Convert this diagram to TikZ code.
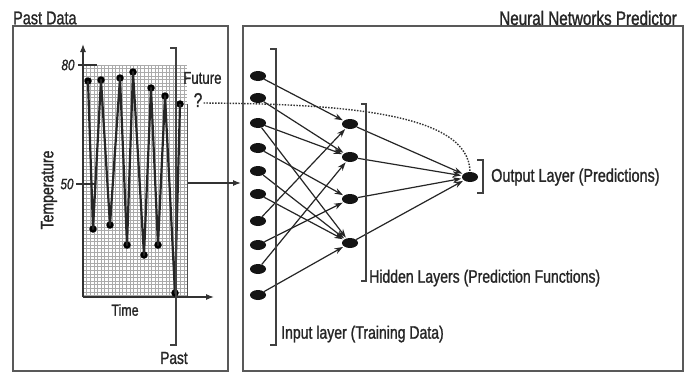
\documentclass[tikz,border=0pt]{standalone}
\usepackage{fontspec}
\setmainfont{Liberation Sans}[FakeStretch=0.78,FakeBold=1.2]
\usetikzlibrary{shapes.geometric,arrows.meta}
\begin{document}
\begin{tikzpicture}[x=1pt,y=-1pt,
  panel/.style={draw=black!65, line width=1.4pt},
  lbl/.style={inner sep=0, text=black!85},
  neuron/.style={ellipse, fill=black!92, minimum width=16pt, minimum height=10pt, inner sep=0},
  datapt/.style={circle, fill=black, minimum size=7.5pt, inner sep=0},
  link/.style={draw=black!85, line width=1.2pt, -{Stealth[length=8.5pt,width=6pt]}, shorten >=1pt},
  brk/.style={draw=black!75, line width=1.4pt},
  gridline/.style={draw=black!33, line width=0.4pt},
  zig/.style={draw=black!85, line width=2.2pt, line join=round},
  axis/.style={draw=black!80, line width=1.2pt},
  forecast/.style={draw=black!80, line width=1.4pt, dash pattern=on 1.5pt off 1.4pt},
]
% canvas
\fill[white] (0,0) rectangle (690,380);
\useasboundingbox (0,0) rectangle (690,380);

% panels and titles
\draw[panel] (13,26) rectangle (228,371);
\draw[panel] (243,26) rectangle (683,371);
\node[lbl, anchor=west, font=\fontsize{18.5}{18.5}\selectfont] (tpast) at (13,18) {Past Data};
\node[lbl, anchor=east, font=\fontsize{19.5}{19.5}\selectfont] (tnn) at (677,18) {Neural Networks Predictor};

% chart grid
\foreach \gx in {83,86.6,...,187} \draw[gridline] (\gx,65) -- (\gx,297);
\foreach \gy in {65,68.6,...,297} \draw[gridline] (83,\gy) -- (187,\gy);
\draw[draw=black!70, line width=0.9pt] (187,104) -- (187,297);

% axes
\coordinate (origin) at (83,297);
\coordinate (ytop) at (83,44);
\coordinate (xend) at (214,297);
\draw[axis, -{Latex[length=8pt,width=6pt]}] (origin) -- (ytop);
\draw[axis, -{Latex[length=8pt,width=6pt]}] (origin) -- (xend);
\coordinate (t80a) at (78,65); \coordinate (t80b) at (97,65);
\coordinate (t50a) at (76,184); \coordinate (t50b) at (95,184);
\draw[axis] (t80a) -- (t80b);
\draw[axis] (t50a) -- (t50b);
\node[lbl, font=\fontsize{15}{15}\selectfont\itshape] (n80) at (68,65) {80};
\node[lbl, font=\fontsize{15}{15}\selectfont\itshape] (n50) at (67,184) {50};
\node[lbl, rotate=90, font=\fontsize{18}{18}\selectfont] (ttemp) at (49,190) {Temperature};
\node[lbl, font=\fontsize{16}{16}\selectfont] (ttime) at (125,310) {Time};

% temperature record
\foreach \n/\px/\py in {1/88/81, 2/93/229, 3/101/80, 4/110/225, 5/120/78, 6/127/245, 7/133/72,
                        8/144/255, 9/151/88, 10/158/245, 11/165/96, 12/175/293, 13/180/104}
  \node[datapt] (p\n) at (\px,\py) {};
\draw[zig] (p1.center) -- (p2.center) -- (p3.center) -- (p4.center) -- (p5.center) -- (p6.center)
  -- (p7.center) -- (p8.center) -- (p9.center) -- (p10.center) -- (p11.center) -- (p12.center) -- (p13.center);

% past / future divider
\draw[brk] (170,48) -- (176,48) -- (176,345) -- (170,345);
\node[lbl, anchor=west, font=\fontsize{17}{17}\selectfont] (tfut) at (183,78) {Future};
\node[lbl, font=\fontsize{20}{20}\selectfont] (q) at (198,100) {?};
\node[lbl, font=\fontsize{17.5}{17.5}\selectfont] (tpst) at (174,358) {Past};

% hand-over arrow
\coordinate (hs) at (188,183);
\coordinate (he) at (241,183);
\draw[axis, -{Latex[length=8pt,width=6pt]}] (hs) -- (he);

% network
\foreach \n/\py in {1/76, 2/98, 3/123, 4/148, 5/171, 6/194, 7/221, 8/245, 9/269, 10/295}
  \node[neuron] (i\n) at (258,\py) {};
\foreach \n/\py in {1/124, 2/157, 3/199, 4/243}
  \node[neuron] (h\n) at (350,\py) {};
\node[neuron] (o) at (470,177) {};

\foreach \a/\b in {i1/h1, i2/h2, i3/h2, i3/h4, i4/h3, i5/h4, i6/h4, i7/h1, i8/h3, i9/h2, i10/h4}
  \draw[link] (\a) -- (\b);
\foreach \h in {h1,h2,h3,h4}
  \draw[link] (\h) -- (o);

% forecast path
\draw[forecast] (q.east) ++(1,3) .. controls (340,104) and (469,112) .. (o.north);

% layer brackets and labels
\draw[brk] (270,49) -- (276,49) -- (276,345) -- (270,345);
\draw[brk] (361,104) -- (366,104) -- (366,281) -- (361,281);
\draw[brk] (477,160) -- (483,160) -- (483,193) -- (477,193);
\node[lbl, anchor=west, font=\fontsize{18}{18}\selectfont] (tin) at (281,334) {Input layer (Training Data)};
\node[lbl, anchor=west, font=\fontsize{18}{18}\selectfont] (thid) at (369,278) {Hidden Layers (Prediction Functions)};
\node[lbl, anchor=west, font=\fontsize{18.5}{18.5}\selectfont] (tout) at (491,177) {Output Layer (Predictions)};
\end{tikzpicture}
\end{document}
